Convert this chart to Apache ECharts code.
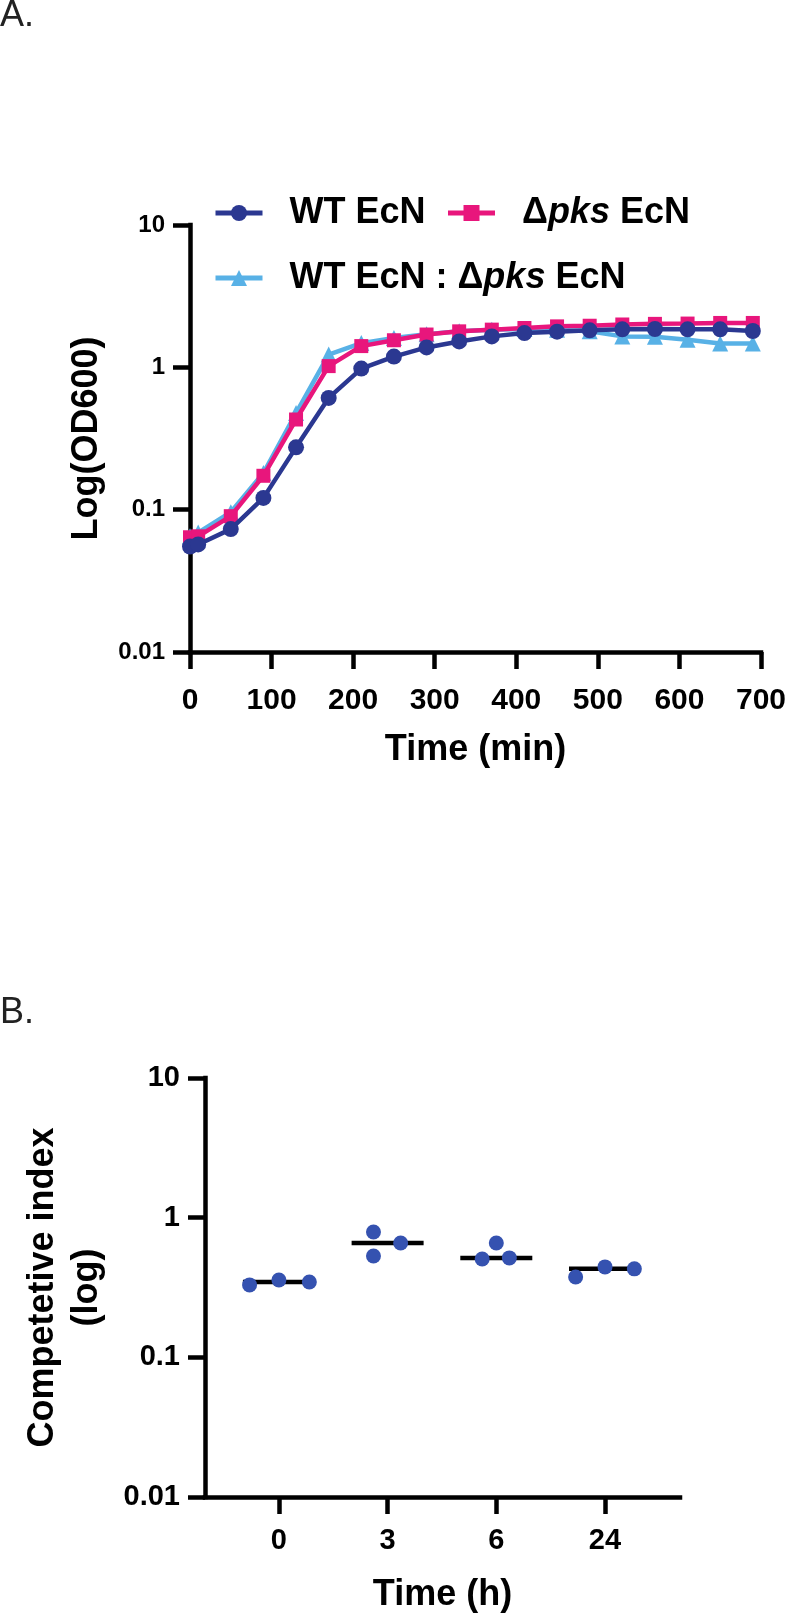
<!DOCTYPE html>
<html>
<head>
<meta charset="utf-8">
<script src="https://cdn.jsdelivr.net/npm/echarts@6/dist/echarts.min.js"></script>
<style>
  html, body { margin: 0; padding: 0; background: #ffffff; }
  #chart { width: 789px; height: 1614px; }
</style>
</head>
<body>
<div id="chart"></div>
<script>
// ---------- Panel A data: growth curves ----------
const timeMin = [0, 10, 50, 90, 130, 170, 210, 250, 290, 330, 370, 410, 450, 490, 530, 570, 610, 650, 690];
const wtEcN   = [0.055, 0.057, 0.073, 0.121, 0.274, 0.61, 0.98, 1.19, 1.38, 1.52, 1.65, 1.74, 1.78, 1.82, 1.85, 1.86, 1.85, 1.85, 1.80];
const pksEcN  = [0.064, 0.065, 0.090, 0.173, 0.43, 1.02, 1.41, 1.55, 1.70, 1.79, 1.84, 1.89, 1.94, 1.96, 2.00, 2.02, 2.03, 2.05, 2.05];
const mixEcN  = [0.065, 0.069, 0.096, 0.181, 0.477, 1.23, 1.48, 1.61, 1.71, 1.79, 1.84, 1.86, 1.84, 1.79, 1.65, 1.64, 1.56, 1.47, 1.47];
const seriesNamesA = ['WT EcN', 'Δpks EcN', 'WT EcN : Δpks EcN'];
const logTickLabels = ['0.01', '0.1', '1', '10'];

// ---------- Panel B data: competitive index ----------
const timeCats = ['0', '3', '6', '24'];
const ciValues = [
  [0.330, 0.358, 0.346],
  [0.790, 0.532, 0.659],
  [0.506, 0.659, 0.515],
  [0.376, 0.444, 0.430]
];
const jitter = [
  [-0.27, 0.00, 0.28],
  [-0.13, -0.13, 0.12],
  [-0.13, 0.00, 0.12],
  [-0.27, 0.00, 0.27]
];

const FONT = '"Liberation Sans", Arial, Helvetica, sans-serif';
const colors = { wt: '#2B3891', pks: '#E8167C', mix: '#58B1E6', dot: '#3552B0' };

function median(arr) {
  const s = arr.slice().sort((a, b) => a - b);
  return s[Math.floor(s.length / 2)];
}
function logLabel(v) {
  const i = Math.round(Math.log10(v)) + 2;
  return logTickLabels[i] !== undefined ? logTickLabels[i] : '';
}

const chart = echarts.init(document.getElementById('chart'), null, { renderer: 'canvas' });

const axisLine = { show: true, onZero: false, lineStyle: { color: '#000', width: 4.5, cap: 'square' } };
const axisTick = { show: true, inside: false, length: 17, lineStyle: { color: '#000', width: 4.5 } };

const legendRich = {
  r: { fontFamily: FONT, fontWeight: 'bold', fontSize: 36, color: '#000' },
  i: { fontFamily: FONT, fontWeight: 'bold', fontStyle: 'italic', fontSize: 36, color: '#000' }
};
function legendFormatter(name) {
  if (name === 'WT EcN') return '{r|WT EcN}';
  if (name === 'Δpks EcN') return '{r|Δ}{i|pks}{r| EcN}';
  return '{r|WT EcN : Δ}{i|pks}{r| EcN}';
}
const legendBase = {
  orient: 'horizontal',
  padding: 0,
  itemWidth: 47,
  itemHeight: 20,
  itemGap: 20,
  lineStyle: { width: 5 },
  textStyle: { rich: legendRich, padding: [0, 0, 0, 22] },
  formatter: legendFormatter,
  selectedMode: false
};

const scatterData = [];
const medianData = [];
ciValues.forEach((vals, ci) => {
  vals.forEach((v, k) => scatterData.push([ci + jitter[ci][k], v]));
  medianData.push([ci, median(vals)]);
});

const option = {
  animation: false,
  backgroundColor: '#ffffff',
  textStyle: { fontFamily: FONT },
  graphic: [
    { type: 'text', left: 0, top: -2, style: { text: 'A.', font: 'normal 36px ' + FONT, fill: '#222' } },
    { type: 'text', left: 0, top: 995, style: { text: 'B.', font: 'normal 36px ' + FONT, fill: '#222' } }
  ],
  legend: [
    Object.assign({}, legendBase, { left: 213, top: 195, data: [seriesNamesA[0], seriesNamesA[1]] }),
    Object.assign({}, legendBase, { left: 213, top: 260, data: [seriesNamesA[2]] })
  ],
  grid: [
    { left: 190, right: 27, top: 225, height: 427, containLabel: false },
    { left: 205, right: 109, top: 1078, height: 419, containLabel: false }
  ],
  xAxis: [
    {
      gridIndex: 0, type: 'value', min: 0, max: 700, interval: 100,
      axisLine, axisTick, splitLine: { show: false },
      axisLabel: { margin: 34, fontSize: 30, fontWeight: 'bold', color: '#000', fontFamily: FONT, showMaxLabel: true, showMinLabel: true },
      name: 'Time (min)', nameLocation: 'middle', nameGap: 80, nameMoveOverlap: false,
      nameTextStyle: { fontSize: 36, fontWeight: 'bold', color: '#000', fontFamily: FONT, verticalAlign: 'top' }
    },
    {
      gridIndex: 1, type: 'value', min: -0.68, max: 3.69,
      axisLine,
      axisTick: Object.assign({}, axisTick, { customValues: [0, 1, 2, 3] }),
      splitLine: { show: false },
      axisLabel: {
        customValues: [0, 1, 2, 3],
        margin: 29, fontSize: 29, fontWeight: 'bold', color: '#000', fontFamily: FONT,
        formatter: v => timeCats[Math.round(v)] !== undefined ? timeCats[Math.round(v)] : ''
      },
      name: 'Time (h)', nameLocation: 'middle', nameGap: 80, nameMoveOverlap: false,
      nameTextStyle: { fontSize: 36, fontWeight: 'bold', color: '#000', fontFamily: FONT, verticalAlign: 'top' }
    }
  ],
  yAxis: [
    {
      gridIndex: 0, type: 'log', logBase: 10, min: 0.01, max: 10,
      axisLine, axisTick, splitLine: { show: false }, minorTick: { show: false },
      axisLabel: { margin: 25, fontSize: 24, fontWeight: 'bold', color: '#000', fontFamily: FONT, formatter: logLabel },
      name: 'Log(OD600)', nameLocation: 'middle', nameGap: 85, nameRotate: 90, nameMoveOverlap: false,
      nameTextStyle: { fontSize: 36, fontWeight: 'bold', color: '#000', fontFamily: FONT }
    },
    {
      gridIndex: 1, type: 'log', logBase: 10, min: 0.01, max: 10,
      axisLine, axisTick, splitLine: { show: false }, minorTick: { show: false },
      axisLabel: { margin: 25, fontSize: 29, fontWeight: 'bold', color: '#000', fontFamily: FONT, formatter: logLabel },
      name: 'Competetive index\n(log)', nameLocation: 'middle', nameGap: 96, nameRotate: 90, nameMoveOverlap: false,
      nameTextStyle: { fontSize: 36, fontWeight: 'bold', color: '#000', fontFamily: FONT, lineHeight: 44, align: 'center' }
    }
  ],
  series: [
    {
      name: seriesNamesA[2], type: 'line', xAxisIndex: 0, yAxisIndex: 0,
      data: timeMin.map((t, i) => [t, mixEcN[i]]),
      symbol: 'triangle', symbolSize: 16, showSymbol: true,
      lineStyle: { color: colors.mix, width: 4.5 }, itemStyle: { color: colors.mix }, z: 2
    },
    {
      name: seriesNamesA[1], type: 'line', xAxisIndex: 0, yAxisIndex: 0,
      data: timeMin.map((t, i) => [t, pksEcN[i]]),
      symbol: 'rect', symbolSize: 14, showSymbol: true,
      lineStyle: { color: colors.pks, width: 4.5 }, itemStyle: { color: colors.pks }, z: 3
    },
    {
      name: seriesNamesA[0], type: 'line', xAxisIndex: 0, yAxisIndex: 0,
      data: timeMin.map((t, i) => [t, wtEcN[i]]),
      symbol: 'circle', symbolSize: 16, showSymbol: true,
      lineStyle: { color: colors.wt, width: 4.5 }, itemStyle: { color: colors.wt }, z: 4
    },
    {
      name: 'median', type: 'scatter', xAxisIndex: 1, yAxisIndex: 1,
      data: medianData, symbol: 'rect', symbolSize: [72, 4.5],
      itemStyle: { color: '#000', opacity: 1 }, z: 2
    },
    {
      name: 'Competitive index', type: 'scatter', xAxisIndex: 1, yAxisIndex: 1,
      data: scatterData, symbol: 'circle', symbolSize: 15,
      itemStyle: { color: colors.dot, opacity: 1 }, z: 3
    }
  ]
};
chart.setOption(option);
</script>
</body>
</html>
